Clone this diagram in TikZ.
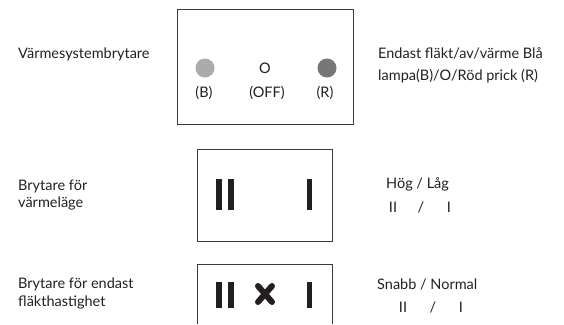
\documentclass[tikz,border=0pt]{standalone}
\usepackage{fontspec}
\setmainfont{Lato}
\definecolor{ink}{HTML}{231F20}
\definecolor{frame}{HTML}{3A3A3A}
\definecolor{lampblue}{HTML}{ABABAB}
\definecolor{lampred}{HTML}{777777}
\begin{document}
\begin{tikzpicture}[x=1pt,y=-1pt,
    lbl/.style={anchor=base west,inner sep=0pt,text=ink,font=\fontsize{14.5}{17}\selectfont},
    mid/.style={anchor=base,inner sep=0pt,text=ink,font=\fontsize{14.5}{17}\selectfont},
    panel/.style={draw=frame,line width=0.9pt},
    bar/.style={fill=ink}]
	\useasboundingbox (0,0) rectangle (564,324);
	% heating system switch
	\draw [panel] (177,9) rectangle (353,124);
	\fill [lampblue] (205,68) circle (9.5);
	\fill [lampred] (327,68) circle (9.5);
	\node [mid] (off) at (265,73.5) {O};
	\node [mid] (labB) at (204,97) {(B)};
	\node [mid] (labOFF) at (267,97) {(OFF)};
	\node [mid] (labR) at (325,97) {(R)};
	\node [lbl] (heatsys) at (18,58) {Värmesystembrytare};
	\node [lbl] (fanA) at (378,58) {Endast fläkt/av/värme Blå};
	\node [lbl] (fanB) at (378,80) {lampa(B)/O/Röd prick (R)};
	% heat mode switch
	\draw [panel] (197,149) rectangle (332,241);
	\fill [bar] (216,179) rectangle (221.5,210);
	\fill [bar] (228,179) rectangle (233.5,210);
	\fill [bar] (306.5,179) rectangle (312,210);
	\node [lbl] (modeA) at (18,190) {Brytare för};
	\node [lbl] (modeB) at (18,207) {värmeläge};
	\node [lbl] (hilo) at (386,188) {Hög / Låg};
	\node [mid] (hiloII) at (393,212) {II};
	\node [mid] (hiloS) at (421,212) {/};
	\node [mid] (hiloI) at (449,212) {I};
	% fan speed switch
	\draw [panel] (197,324) |- (332,264) -- (332,324);
	\fill [bar] (216,282) rectangle (221.5,308);
	\fill [bar] (228,282) rectangle (233.5,308);
	\fill [bar] (306.5,282) rectangle (312,308);
	\draw [ink,line width=6pt,line cap=round] (258,286) -- (272,302) (272,286) -- (258,302);
	\node [lbl] (speedA) at (18,288) {Brytare för endast};
	\node [lbl] (speedB) at (18,306) {fläkthastighet};
	\node [lbl] (fastnorm) at (377,289) {Snabb / Normal};
	\node [mid] (fnII) at (403,312) {II};
	\node [mid] (fnS) at (433,312) {/};
	\node [mid] (fnI) at (461,312) {I};
\end{tikzpicture}
\end{document}
